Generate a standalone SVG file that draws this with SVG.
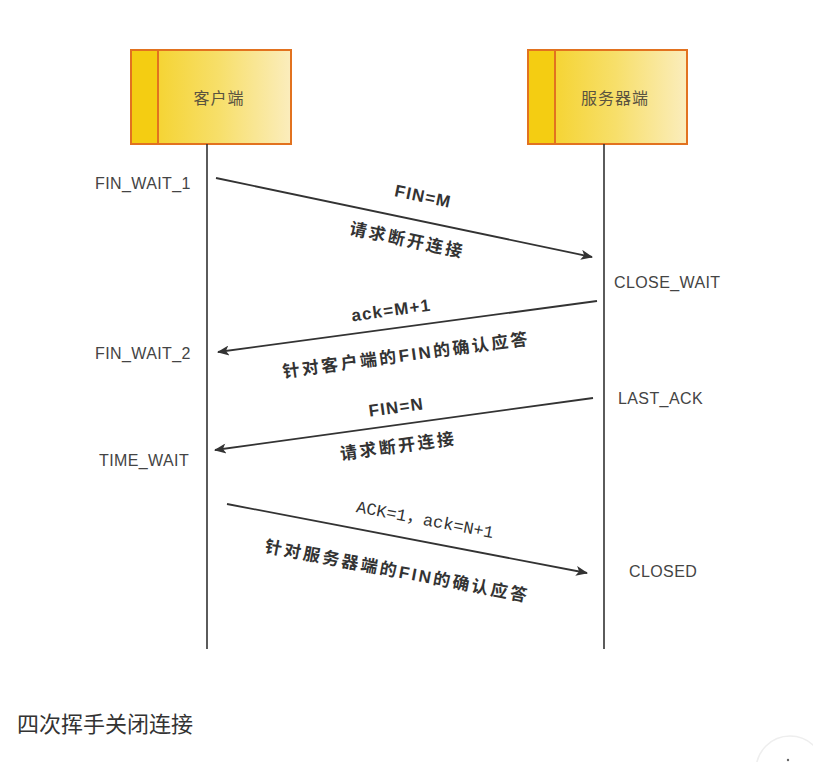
<svg xmlns="http://www.w3.org/2000/svg" width="813" height="762" viewBox="0 0 813 762">
  <defs>
    <linearGradient id="boxFill" x1="0" y1="0" x2="1" y2="0">
      <stop offset="0" stop-color="#f4cf1c"/>
      <stop offset="0.55" stop-color="#f7df6a"/>
      <stop offset="1" stop-color="#fbedbd"/>
    </linearGradient>
    <marker id="arrow" viewBox="0 0 12 10" refX="11" refY="5" markerWidth="13" markerHeight="10" markerUnits="userSpaceOnUse" orient="auto">
      <path d="M0,0 L12,5 L0,10 L3,5 Z" fill="#333"/>
    </marker>
  </defs>
  <style>
    .box { fill: url(#boxFill); stroke: #e2721f; stroke-width: 2; }
    .stripe { fill: #f4cd12; stroke: #e2721f; stroke-width: 2; }
    .title { font-family: "Liberation Sans", "Noto Sans CJK SC", sans-serif; font-size: 16px; letter-spacing: 1px; fill: #5a5340; text-anchor: middle; }
    .life { stroke: #333; stroke-width: 1.6; fill: none; }
    .msg { stroke: #333; stroke-width: 1.8; fill: none; marker-end: url(#arrow); }
    .state { font-family: "Liberation Sans", "Noto Sans", sans-serif; font-size: 16px; letter-spacing: 0.4px; fill: #444; }
    .lbl { font-family: "Liberation Sans", "Noto Sans CJK SC", sans-serif; font-size: 17px; font-weight: bold; letter-spacing: 1.2px; fill: #333; text-anchor: middle; }
    .cjk { letter-spacing: 2.5px; }
    .lblmono { font-family: "Liberation Mono", "Noto Sans CJK SC", monospace; font-size: 17px; fill: #333; text-anchor: middle; }
    .cap { font-family: "Noto Sans CJK SC", sans-serif; font-size: 22px; fill: #333; }
  </style>

  <rect width="813" height="762" fill="#ffffff"/>

  <!-- client participant -->
  <g id="client">
    <rect class="box" x="131" y="50" width="160" height="94"/>
    <rect class="stripe" x="131" y="50" width="27" height="94"/>
    <text class="title" x="219" y="104">客户端</text>
  </g>

  <!-- server participant -->
  <g id="server">
    <rect class="box" x="528" y="50" width="159" height="94"/>
    <rect class="stripe" x="528" y="50" width="27" height="94"/>
    <text class="title" x="615" y="104">服务器端</text>
  </g>

  <!-- lifelines and messages -->
  <g id="connectors">
    <line class="life" x1="207" y1="144" x2="207" y2="649"/>
    <line class="life" x1="604" y1="144" x2="604" y2="649"/>
    <line class="msg" x1="216" y1="178" x2="592" y2="257"/>
    <line class="msg" x1="597" y1="301" x2="218" y2="352"/>
    <line class="msg" x1="593" y1="398" x2="215" y2="450"/>
    <line class="msg" x1="227" y1="504" x2="587" y2="573"/>
  </g>

  <!-- message labels -->
  <g id="msg-labels">
    <text class="lbl" transform="translate(422,202) rotate(11.8)">FIN=M</text>
    <text class="lbl cjk" transform="translate(406,246) rotate(11.8)">请求断开连接</text>
    <text class="lbl" transform="translate(392,316) rotate(-7.7)">ack=M+1</text>
    <text class="lbl cjk" transform="translate(407,361) rotate(-7.7)">针对客户端的FIN的确认应答</text>
    <text class="lbl" transform="translate(397,413) rotate(-7.8)">FIN=N</text>
    <text class="lbl cjk" transform="translate(399,452) rotate(-7.8)">请求断开连接</text>
    <text class="lblmono" transform="translate(424,525) rotate(10.8)">ACK=1，ack=N+1</text>
    <text class="lbl cjk" transform="translate(396,577) rotate(10.8)">针对服务器端的FIN的确认应答</text>
  </g>

  <!-- connection states -->
  <g id="states">
    <text class="state" x="95" y="189">FIN_WAIT_1</text>
    <text class="state" x="95" y="359">FIN_WAIT_2</text>
    <text class="state" x="99" y="466">TIME_WAIT</text>
    <text class="state" x="614" y="288">CLOSE_WAIT</text>
    <text class="state" x="618" y="404">LAST_ACK</text>
    <text class="state" x="629" y="577">CLOSED</text>
  </g>

  <text class="cap" x="17" y="732">四次挥手关闭连接</text>

  <!-- back-to-top button, partly off-canvas -->
  <g id="top-button">
    <circle cx="790" cy="770" r="34" fill="#fff" stroke="#eeeeee" stroke-width="1.5"/>
    <circle cx="788" cy="760" r="1.2" fill="#666"/>
  </g>
</svg>
